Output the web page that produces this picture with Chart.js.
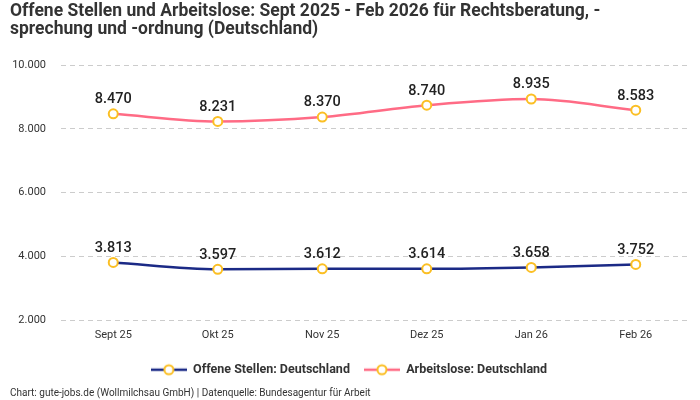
<!DOCTYPE html>
<html><head><meta charset="utf-8">
<script src="https://cdn.jsdelivr.net/npm/chart.js@4/dist/chart.umd.min.js"></script>
<style>html,body{margin:0;padding:0;background:#fff;}#wrap{width:700px;height:400px;}</style>
</head><body><div id="wrap"><canvas id="c" width="700" height="400"></canvas></div>
<script>
const categories = ['Sept 25','Okt 25','Nov 25','Dez 25','Jan 26','Feb 26'];
const offeneStellen = [3813, 3597, 3612, 3614, 3658, 3752];
const arbeitslose = [8470, 8231, 8370, 8740, 8935, 8583];
const seriesNames = ['Offene Stellen: Deutschland', 'Arbeitslose: Deutschland'];
const yTicks = [2000, 4000, 6000, 8000, 10000];

const FONT = "Roboto, 'Noto Sans', sans-serif";
const fmt = v => v.toLocaleString('de-DE');

function legendIcon(color){
  const c = document.createElement('canvas');
  c.width = 36; c.height = 14;
  const x = c.getContext('2d');
  x.strokeStyle = color; x.lineWidth = 2.5;
  x.beginPath(); x.moveTo(0,7); x.lineTo(36,7); x.stroke();
  x.beginPath(); x.arc(18,7,4.5,0,Math.PI*2);
  x.fillStyle='#fff'; x.fill();
  x.strokeStyle='#fbbf24'; x.lineWidth=2; x.stroke();
  return c;
}

const valueLabels = {
  id:'valueLabels',
  afterDatasetsDraw(chart){
    const ctx = chart.ctx;
    ctx.save();
    ctx.font = "500 14.5px " + FONT;
    ctx.fillStyle = '#222';
    ctx.textAlign = 'center';
    ctx.textBaseline = 'bottom';
    chart.data.datasets.forEach((ds,i)=>{
      chart.getDatasetMeta(i).data.forEach((pt,j)=>{
        ctx.fillText(fmt(ds.data[j]), pt.x, pt.y - 7);
      });
    });
    ctx.restore();
  }
};

const colors = ['#1b2a86', '#ff6b85'];
new Chart(document.getElementById('c'), {
  type:'line',
  data:{
    labels: categories,
    datasets:[
      {label: seriesNames[0], data: offeneStellen, borderColor: colors[0]},
      {label: seriesNames[1], data: arbeitslose, borderColor: colors[1]}
    ].map((d,i)=>Object.assign(d,{
      borderWidth:2.5, tension:0.4, cubicInterpolationMode:'monotone',
      pointRadius:4.5, pointBorderWidth:2, pointBackgroundColor:'#fff',
      pointBorderColor:'#fbbf24', pointStyle: 'circle', fill:false
    }))
  },
  options:{
    responsive:false, animation:false, devicePixelRatio:1,
    layout:{padding:{left:10,right:12,top:0,bottom:0}},
    plugins:{
      title:{display:true, align:'start', text:['Offene Stellen und Arbeitslose: Sept 2025 - Feb 2026 für Rechtsberatung, -','sprechung und -ordnung (Deutschland)'],
        color:'#333', font:{family:FONT, size:17.5, weight:'bold', lineHeight:1.0}, padding:{top:3,bottom:27}},
      subtitle:{display:true, position:'bottom', align:'start', text:'Chart: gute-jobs.de (Wollmilchsau GmbH) | Datenquelle: Bundesagentur für Arbeit',
        color:'#333', font:{family:FONT, size:10}, padding:{top:1,bottom:1}},
      legend:{position:'bottom', labels:{usePointStyle:true, pointStyleWidth:36, color:'#333', font:{family:FONT, size:12.5, weight:'bold'},
        padding:14, boxHeight:14,
        generateLabels(chart){
          return chart.data.datasets.map((ds,i)=>({text:ds.label, pointStyle:legendIcon(colors[i]), datasetIndex:i, fontColor:'#333', lineWidth:0, strokeStyle:'transparent', fillStyle:'transparent'}));
        }}},
      tooltip:{enabled:false}
    },
    scales:{
      x:{offset:true, grid:{display:false, drawTicks:false}, border:{display:false},
        ticks:{color:'#333', font:{family:FONT, size:11}, padding:8}},
      y:{min:2000, max:10000, afterBuildTicks(ax){ax.ticks = yTicks.map(v=>({value:v}));},
        afterFit(ax){ax.width = 51;},
        grid:{color:'#cccccc', drawTicks:false}, border:{display:false, dash:[5,4]},
        ticks:{color:'#333', font:{family:FONT, size:11}, padding:15, callback:v=>fmt(v)}}
    }
  },
  plugins:[valueLabels]
});
</script></body></html>
